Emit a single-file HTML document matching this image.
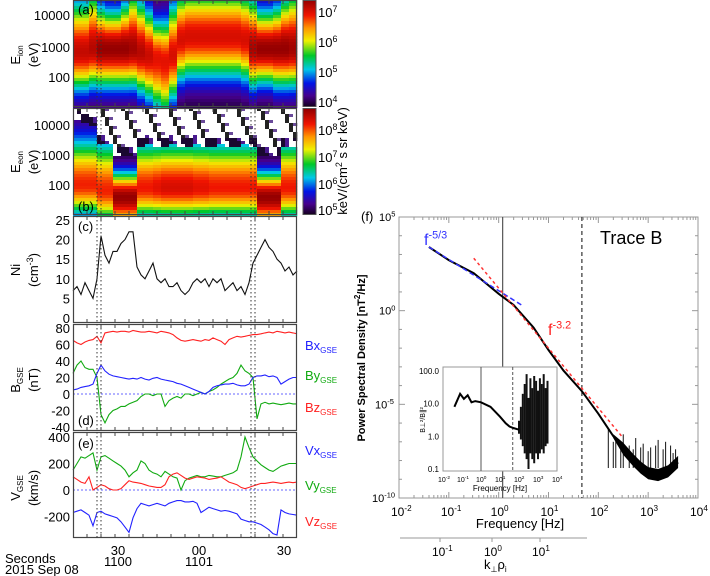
<!DOCTYPE html>
<html><head><meta charset="utf-8">
<style>
html,body{margin:0;padding:0;background:#fff;}
svg{display:block;font-family:"Liberation Sans",sans-serif;}
</style></head>
<body>
<svg id="fig" width="710" height="576" viewBox="0 0 710 576" xmlns="http://www.w3.org/2000/svg">
<g id="specA"></g>
<g id="specB"></g>
<g id="cbars"></g>
<g id="lines"></g>
<g id="axes"></g>
<g id="psd"></g>
</svg>
<script>
// ---------- data ----------
const ionCenter = [2.8,2.8,2.9,2.9,2.9,2.9,2.9,2.9,2.8,2.7,2.6,2.5,2.7,3.2,3.3,3.3,3.3,3.3,3.3,3.3,3.3,3.2,2.9,2.9,2.9,2.9,2.9,2.9];
const ionWidthHi = [1.6,1.6,1.8,1.3,1.2,1.2,1.4,1.8,1.6,1.4,1.2,1.3,1.6,1.5,1.5,1.5,1.5,1.5,1.5,1.5,1.5,1.5,1.6,1.2,1.2,1.3,1.6,1.8];
const ionWidthLo = [1.2,1.2,1.2,1.2,1.2,1.2,1.2,1.2,1.3,1.4,1.6,1.7,1.4,1.3,1.3,1.3,1.3,1.3,1.3,1.3,1.3,1.3,1.2,1.1,1.1,1.2,1.2,1.2];
const ionPeak = [0.93,0.93,0.95,1,1,1,1,0.98,0.95,0.92,0.88,0.88,0.9,0.9,0.9,0.9,0.9,0.9,0.9,0.9,0.9,0.9,0.97,1,1,1,1,0.98];
const eCenter = [2.0,2.0,2.0,1.8,1.8,1.6,1.6,1.6,1.9,1.9,1.9,1.9,1.9,1.9,1.9,1.9,1.9,1.9,1.9,1.9,1.9,1.9,1.9,1.6,1.6,1.6,1.9,1.9];
const eWidth = [1.5,1.5,1.5,1.6,1.6,0.8,0.8,0.8,1.5,1.5,1.5,1.5,1.5,1.5,1.5,1.5,1.5,1.5,1.5,1.5,1.5,1.5,1.5,0.8,0.8,0.8,1.5,1.5];
const eCut = [4.2,4.1,4.0,3.4,3.4,3.0,3.0,3.0,3.3,3.35,3.3,3.3,3.35,3.3,3.3,3.35,3.3,3.3,3.35,3.3,3.3,3.35,3.3,3.0,3.0,3.0,3.3,3.3];
const ePeak = [0.85,0.85,0.85,0.85,0.85,1,1,1,0.86,0.86,0.88,0.9,0.9,0.9,0.9,0.88,0.88,0.86,0.86,0.86,0.86,0.86,0.86,1,1,1,0.86,0.86];
const Ni = [7,8,6,9,7,5,10,21,16,14,17,17,19,20,22,22,13,11,10,12,14,10,9,10,8,8,9,7,6,7,9,10,9,10,8,10,9,10,7,8,9,7,8,6,9,14,16,18,20,18,17,15,14,12,13,11,12];
const Bx = [5,6,8,9,10,12,25,35,28,24,22,21,20,19,18,19,18,20,18,17,19,20,18,17,16,15,13,12,10,8,6,4,2,0,3,8,10,11,12,12,13,11,10,10,12,20,22,22,23,21,22,20,12,15,18,20,20];
const By = [25,35,40,32,30,30,20,-25,-35,-25,-20,-18,-15,-15,-12,-10,-8,-3,0,0,-2,0,0,-15,-8,-5,-3,-5,0,0,-2,0,2,0,3,5,8,12,15,18,20,25,35,28,25,20,-30,-12,-10,-12,-11,-12,-13,-12,-11,-12,-12];
const Bz = [65,62,60,63,65,66,70,62,74,75,76,75,76,76,75,77,76,75,75,76,75,74,76,75,74,72,68,65,64,65,66,65,64,66,65,68,66,64,60,66,68,70,69,70,71,72,72,73,74,75,74,76,75,74,75,74,73];
const Vx = [-170,-160,-150,-170,-190,-270,-170,-160,-180,-190,-200,-210,-240,-280,-320,-210,-140,-100,-110,-120,-110,-100,-110,-120,-100,-90,-80,-80,-90,-90,-85,-100,-170,-150,-130,-140,-150,-160,-155,-160,-170,-180,-220,-230,-240,-240,-250,-260,-280,-300,-330,-340,-150,-170,-180,-185,-190];
const Vy = [150,200,250,240,260,280,150,250,260,240,220,200,180,150,100,130,150,220,200,150,130,120,100,140,120,100,90,0,70,90,100,110,100,100,110,105,100,100,110,120,130,150,250,400,320,250,220,190,170,150,140,160,180,190,200,200,200];
const Vz = [100,80,60,50,100,0,20,40,30,10,0,0,10,40,70,60,55,50,40,30,25,20,20,40,100,120,130,110,90,80,90,100,95,90,80,85,90,100,80,60,50,40,20,10,20,30,40,50,50,55,60,55,50,55,60,55,60];
const psdLogF = [-1.4,-1.0,-0.5,0.0,0.3,0.7,1.0,1.3,1.67,2.0,2.3,2.5,2.7,2.85,3.0,3.2,3.4,3.6];
const psdLogP = [3.4,2.7,2.0,0.9,0.3,-0.9,-2.1,-3.2,-4.3,-5.5,-6.7,-7.4,-8.0,-8.4,-8.7,-8.8,-8.6,-8.1];
const spikeLogF = [2.2,2.3,2.35,2.45,2.5,2.62,2.7,2.75,2.85,2.9,3.0,3.05,3.15,3.2,3.3,3.35,3.45,3.5,3.55];
const spikeTop = [-6.3,-7.0,-6.9,-7.2,-6.6,-7.2,-7.4,-6.8,-7.3,-7.1,-7.5,-7.3,-7.2,-6.9,-7.4,-7.0,-7.2,-7.6,-7.4];
const ratioLogF = [-1.4,-1.1,-0.9,-0.7,-0.5,-0.3,0,0.5,1.0,1.3,1.5,1.7,2.0];
const ratioVal = [8,20,14,18,11,12,11,8,4,2.5,2.0,1.8,1.6];
const ratioSpikeF = [2.0,2.1,2.2,2.3,2.4,2.5,2.6,2.7,2.8,2.9,3.0,3.1,3.2,3.3,3.4,3.5];
const ratioHi = [3,8,20,40,80,15,60,30,70,50,25,60,40,80,30,50];
const ratioLo = [1.2,0.8,0.5,0.3,0.2,0.1,0.3,0.2,0.15,0.3,0.2,0.3,0.4,0.3,0.5,0.6];

// ---------- helpers ----------
const NS="http://www.w3.org/2000/svg";
function mk(tag,attrs,parent){const e=document.createElementNS(NS,tag);for(const k in attrs)e.setAttribute(k,attrs[k]);parent.appendChild(e);return e;}
const stops=[[0,[20,0,30]],[0.1,[70,0,140]],[0.22,[0,20,230]],[0.35,[0,200,230]],[0.48,[0,200,40]],[0.62,[240,240,0]],[0.74,[255,150,0]],[0.86,[240,20,0]],[1,[150,0,0]]];
function cmap(v){v=Math.max(0,Math.min(1,v));for(let i=1;i<stops.length;i++){if(v<=stops[i][0]){const a=stops[i-1],b=stops[i];const t=(v-a[0])/(b[0]-a[0]);const c=a[1].map((x,j)=>Math.round(x+(b[1][j]-x)*t));return `rgb(${c})`;}}return 'rgb(150,0,0)';}
const X0=73,X1=297;
const tx=i=>X0+(X1-X0)*i/56;

// ---------- spectrogram a ----------
const gA=document.getElementById('specA');
for(let i=0;i<28;i++){
  for(let y=0;y<107;y+=3){
    const l=4-(y+1.5-15)/31;
    const d=l-ionCenter[i];
    const w=d>0?ionWidthHi[i]:ionWidthLo[i];
    const v=ionPeak[i]*Math.exp(-(d/w)*(d/w));
    const r=mk('rect',{x:X0+i*8,y:y,width:8.3,height:3.3,fill:cmap(v)},gA);
    
    
  }
}
// ---------- spectrogram b ----------
const gB=document.getElementById('specB');
for(let i=0;i<56;i++){
  const c=i>>1;
  for(let y=108;y<215;y+=3){
    const l=4-(y+1.5-125)/30;
    let fill;
    const h=(i*37+y*11)%17;
    if(l>eCut[c]+0.3){fill=(h<3)?'#222':(h===5?'#6a4a9a':'#fff');}
    else if(l>eCut[c]){fill=(h<9)?'#1a0830':(h<12?'#4a1a90':'#fff');}
    else{const d=l-eCenter[c];const w=d>0?eWidth[c]:1.0;fill=cmap(ePeak[c]*Math.exp(-(d/w)*(d/w)));}
    const r=mk('rect',{x:X0+i*4,y:y,width:4.3,height:3.3,fill:fill},gB);
    
    
  }
}
// ---------- colorbars ----------
const gC=document.getElementById('cbars');
for(let y=0;y<106;y++){mk('rect',{x:303,y:y,width:13,height:1.2,fill:cmap(1-y/106)},gC);}
for(let y=109;y<214;y++){mk('rect',{x:303,y:y,width:13,height:1.2,fill:cmap(1-(y-109)/105)},gC);}
mk('rect',{x:303,y:0.5,width:13,height:106,fill:'none',stroke:'#555'},gC);
mk('rect',{x:303,y:108.5,width:13,height:106,fill:'none',stroke:'#555'},gC);
function sup(parent,x,y,base,exp,size,color,anchor){const t=mk('text',{x:x,y:y,'font-size':size,fill:color||'#000','text-anchor':anchor||'start'},parent);t.textContent=base;const s=mk('tspan',{'font-size':size*0.68,dy:-size*0.4},t);s.textContent=exp;return t;}
[['7',12],['6',42],['5',72],['4',102]].forEach(a=>sup(gC,318,a[1]+5,'10',a[0],13));
[['8',130],['7',157],['6',184],['5',210]].forEach(a=>sup(gC,318,a[1]+5,'10',a[0],13));
const cbl=mk('text',{x:0,y:0,'font-size':13,transform:'translate(347,161) rotate(-90)','text-anchor':'middle'},gC);
cbl.innerHTML='keV/(cm<tspan font-size="9" dy="-5">2</tspan><tspan dy="5"> s sr keV)</tspan>';

// ---------- line panels ----------
const gL=document.getElementById('lines');
function series(arr,y0,scale,vref,color,name){
  const pts=arr.map((v,i)=>`${tx(i).toFixed(1)},${(y0-(v-vref)*scale).toFixed(1)}`).join(' ');
  const p=mk('polyline',{points:pts,fill:'none',stroke:color,'stroke-width':1.1},gL);
  
  
}
series(Ni,318,98/25,0,'#111','ni-line');
mk('line',{x1:X0,x2:X1,y1:394,y2:394,stroke:'#66f','stroke-dasharray':'2,2'},gL);
series(Bz,394,66/80,0,'#f22','bz-line');
series(By,394,66/80,0,'#1a1','by-line');
series(Bx,394,66/80,0,'#22f','bx-line');
mk('line',{x1:X0,x2:X1,y1:490,y2:490,stroke:'#66f','stroke-dasharray':'2,2'},gL);
series(Vy,490,53/400,0,'#1a1','vy-line');
series(Vz,490,53/400,0,'#f22','vz-line');
series(Vx,490,53/400,0,'#22f','vx-line');

// ---------- axes & frames ----------
const gX=document.getElementById('axes');
const panels=[[0,107],[108,215],[216,323],[324,431],[432,538]];
panels.forEach(p=>{mk('rect',{x:X0+0.5,y:p[0]+0.5,width:X1-X0-1,height:p[1]-p[0]-1,fill:'none',stroke:'#444','stroke-width':1.2},gX);
  for(let k=1;k<16;k++){const x=X0+k*(X1-X0)/16;mk('line',{x1:x,x2:x,y1:p[1],y2:p[1]-4,stroke:'#444'},gX);mk('line',{x1:x,x2:x,y1:p[0],y2:p[0]+4,stroke:'#444'},gX);}
});
[97,101,251,255].forEach(x=>mk('line',{x1:x,x2:x,y1:0,y2:538,stroke:'#333','stroke-dasharray':'1.5,2.5','stroke-width':1},gX));
function lab(t,x,y,size,anchor,color){const e=mk('text',{x:x,y:y,'font-size':size,'text-anchor':anchor||'end',fill:color||'#000'},gX);e.textContent=t;return e;}
[['10000',15],['1000',47],['100',77]].forEach(a=>lab(a[0],70,a[1]+5,13));
[['10000',125],['1000',155],['100',185]].forEach(a=>lab(a[0],70,a[1]+5,13));
[25,20,15,10,5,0].forEach(v=>lab(String(v),70,318-v*98/25+5,13));
[80,60,40,20,0,-20,-40].forEach(v=>lab(String(v),70,394-v*66/80+5,13));
[400,200,0,-200].forEach(v=>lab(String(v),70,490-v*53/400+5,13));
lab('(a)',78,14,13,'start');lab('(b)',78,211,13,'start');lab('(c)',78,231,13,'start');
lab('(d)',78,425,13,'start');lab('(e)',78,448,13,'start');
function vlab(html,x,y){const e=mk('text',{transform:`translate(${x},${y}) rotate(-90)`,'font-size':13,'text-anchor':'middle'},gX);e.innerHTML=html;}
vlab('E<tspan font-size="8" dy="3">ion</tspan>',20,55);vlab('(eV)',38,55);
vlab('E<tspan font-size="8" dy="3">eon</tspan>',20,162);vlab('(eV)',38,162);
vlab('Ni',20,270);vlab('(cm<tspan font-size="9" dy="-5">-3</tspan><tspan dy="5">)</tspan>',38,270);
vlab('B<tspan font-size="8" dy="3">GSE</tspan>',20,380);vlab('(nT)',38,380);
vlab('V<tspan font-size="8" dy="3">GSE</tspan>',20,488);vlab('(km/s)',38,488);
function comp(t,y,c){const e=mk('text',{x:305,y:y,'font-size':13,fill:c},gX);e.innerHTML=t+'<tspan font-size="8" dy="3">GSE</tspan>';}
comp('Bx',350,'#22f');comp('By',380,'#1a1');comp('Bz',412,'#f22');
comp('Vx',455,'#22f');comp('Vy',490,'#1a1');comp('Vz',526,'#f22');
lab('30',118,555,13,'middle');lab('1100',118,566,13,'middle');
lab('00',199,555,13,'middle');lab('1101',199,566,13,'middle');
lab('30',284,555,13,'middle');
lab('Seconds',5,563,13,'start');lab('2015 Sep 08',5,574,13,'start');

// ---------- PSD panel ----------
const gP=document.getElementById('psd');
const PX0=399,PX1=698,PY0=217,PY1=498;
const fx=lf=>PX0+(lf+2)*(PX1-PX0)/6;
const py=lp=>PY0+(5-lp)*(PY1-PY0)/15;
mk('rect',{x:PX0,y:PY0,width:PX1-PX0,height:PY1-PY0,fill:'none',stroke:'#999'},gP);
for(let d=-2;d<4;d++)for(let m=1;m<10;m++){const x=fx(d+Math.log10(m));const L=m===1?6:3;
  mk('line',{x1:x,x2:x,y1:PY1,y2:PY1-L,stroke:'#999'},gP);mk('line',{x1:x,x2:x,y1:PY0,y2:PY0+L,stroke:'#999'},gP);}
for(let d=-10;d<=5;d++){const y=py(d);const L=d%5===0?6:3;mk('line',{x1:PX0,x2:PX0+L,y1:y,y2:y,stroke:'#999'},gP);mk('line',{x1:PX1,x2:PX1-L,y1:y,y2:y,stroke:'#999'},gP);}
[-2,-1,0,1,2,3,4].forEach(d=>sup(gP,fx(d)-8,PY1+18,'10',String(d),12));
[[5,'5',379],[0,'0',379],[-5,'-5',375],[-10,'-10',372]].forEach(a=>sup(gP,a[2],py(a[0])+4,'10',a[1],11));
const fl=mk('text',{x:520,y:528,'font-size':13,'text-anchor':'middle'},gP);fl.textContent='Frequency [Hz]';
const pl=mk('text',{transform:'translate(365,358) rotate(-90)','font-size':11,'text-anchor':'middle','font-weight':'bold'},gP);
pl.innerHTML='Power Spectral Density [nT<tspan font-size="8" dy="-5">2</tspan><tspan dy="5">/Hz]</tspan>';
const fL=mk('text',{x:361,y:221,'font-size':13},gP);fL.textContent='(f)';
const tb=mk('text',{x:600,y:244,'font-size':18},gP);tb.textContent='Trace B';
mk('line',{x1:fx(0.08),x2:fx(0.08),y1:PY0,y2:PY1,stroke:'#555','stroke-width':1.2},gP);
mk('line',{x1:fx(1.67),x2:fx(1.67),y1:PY0,y2:PY1,stroke:'#333','stroke-dasharray':'4,3','stroke-width':1.2},gP);
spikeLogF.forEach((f,i)=>{const s=mk('line',{x1:fx(f),x2:fx(f),y1:py(spikeTop[i]),y2:py(-8.4),stroke:'#111','stroke-width':1},gP);
  
  });
const bandF=psdLogF.slice(10), bandP=psdLogP.slice(10);
const bandTop=bandF.map((f,i)=>`${fx(f).toFixed(1)},${py(bandP[i]+(i===0?0.1:0.35)).toFixed(1)}`);
const bandBot=bandF.map((f,i)=>`${fx(f).toFixed(1)},${py(bandP[i]-(i===0?0.1:0.3)).toFixed(1)}`).reverse();
const band=mk('polygon',{points:bandTop.concat(bandBot).join(' '),fill:'#000'},gP);


const sp=mk('polyline',{points:psdLogF.map((f,i)=>`${fx(f).toFixed(1)},${py(psdLogP[i]).toFixed(1)}`).join(' '),fill:'none',stroke:'#000','stroke-width':2},gP);


mk('line',{x1:fx(-1.4),y1:py(3.4),x2:fx(0.5),y2:py(3.4-1.9*5/3),stroke:'#33f','stroke-width':1.5,'stroke-dasharray':'5,3'},gP);
mk('line',{x1:fx(-0.5),y1:py(2.8),x2:fx(2.5),y2:py(2.8-3*3.2),stroke:'#f33','stroke-width':1.5,'stroke-dasharray':'3,3'},gP);
sup(gP,424,245,'f','-5/3',16,'#33f');
sup(gP,548,335,'f','-3.2',16,'#f22');
// inset
const IX0=443,IX1=557,IY0=367,IY1=471;
const ix=lf=>IX0+(lf+2)*(IX1-IX0)/6;
const iy=v=>IY0+4+(2-Math.log10(v))*(IY1-IY0-6)/3;
mk('rect',{x:IX0,y:IY0,width:IX1-IX0,height:IY1-IY0,fill:'#fff',stroke:'#999'},gP);
mk('line',{x1:ix(0),x2:ix(0),y1:IY0,y2:IY1,stroke:'#555'},gP);
mk('line',{x1:ix(1.67),x2:ix(1.67),y1:IY0,y2:IY1,stroke:'#555','stroke-dasharray':'3,2'},gP);
ratioSpikeF.forEach((f,i)=>{const s=mk('line',{x1:ix(f),x2:ix(f),y1:iy(ratioHi[i]),y2:iy(ratioLo[i]),stroke:'#111','stroke-width':2},gP);
  
  });
const rl=mk('polyline',{points:ratioLogF.map((f,i)=>`${ix(f).toFixed(1)},${iy(ratioVal[i]).toFixed(1)}`).join(' '),fill:'none',stroke:'#000','stroke-width':2},gP);


[[100,'100.0'],[10,'10.0'],[1,'1.0'],[0.1,'0.1']].forEach(a=>{const t=mk('text',{x:IX0-4,y:iy(a[0])+3,'font-size':8,'text-anchor':'end'},gP);t.textContent=a[1];});
[-2,-1,0,1,2,3,4].forEach(d=>sup(gP,ix(d)-5,IY1+11,'10',String(d),7));
const ifl=mk('text',{x:500,y:491,'font-size':8,'text-anchor':'middle'},gP);ifl.textContent='Frequency [Hz]';
const iyl=mk('text',{transform:'translate(425,420) rotate(-90)','font-size':7,'text-anchor':'middle'},gP);iyl.textContent='B⊥²/B∥²';
mk('line',{x1:400,x2:587,y1:538,y2:538,stroke:'#999'},gP);
[[440,'-1'],[492,'0'],[540,'1']].forEach(a=>{mk('line',{x1:a[0],x2:a[0],y1:538,y2:542,stroke:'#999'},gP);sup(gP,a[0]-8,556,'10',a[1],12);});
const kl=mk('text',{x:484,y:569,'font-size':13},gP);kl.innerHTML='k<tspan font-size="8" dy="3">⊥</tspan><tspan dy="-3">ρ</tspan><tspan font-size="8" dy="3">i</tspan>';
</script>
</body></html>
